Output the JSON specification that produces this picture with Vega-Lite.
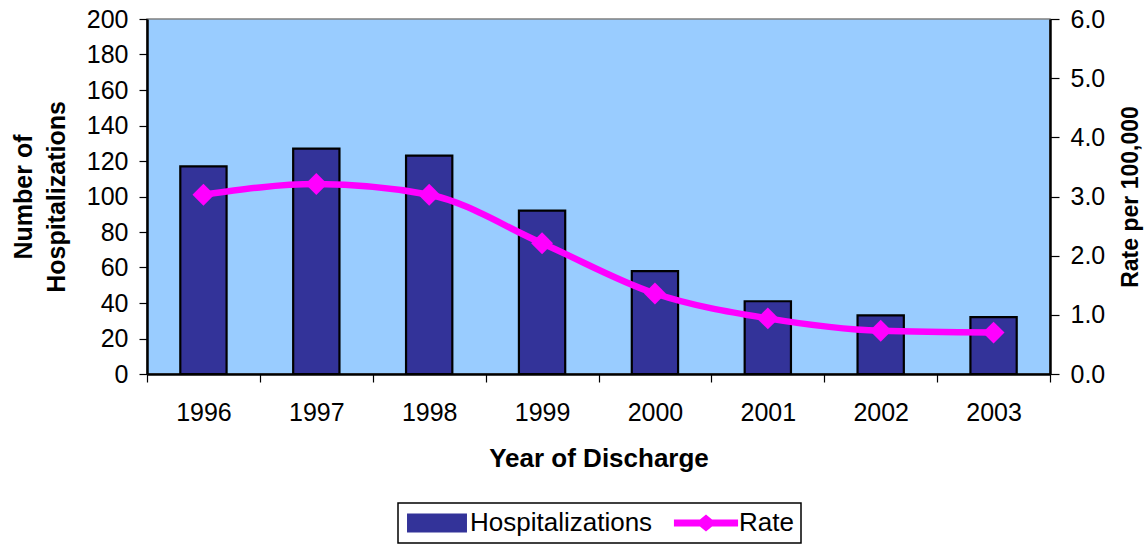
{
  "$schema": "https://vega.github.io/schema/vega-lite/v6.json",
  "autosize": "none",
  "width": 903,
  "height": 355,
  "padding": {"left": 147, "top": 19, "right": 98, "bottom": 170},
  "background": "white",
  "config": {
    "font": "Liberation Sans",
    "view": {"fill": "#99CCFF", "stroke": "#808080", "strokeWidth": 1.5},
    "axis": {
      "labelFont": "Liberation Sans",
      "titleFont": "Liberation Sans",
      "labelColor": "black",
      "titleColor": "black",
      "domainColor": "black",
      "domainWidth": 2.5,
      "tickColor": "black",
      "tickWidth": 1.2,
      "grid": false,
      "labelFontSize": 25,
      "titleFontWeight": "bold"
    },
    "legend": {
      "labelFont": "Liberation Sans",
      "labelFontSize": 26,
      "labelColor": "black",
      "labelLimit": 400
    }
  },
  "data": {
    "values": [
      {"year": "1996", "hosp": 117, "rate": 3.03},
      {"year": "1997", "hosp": 127, "rate": 3.21},
      {"year": "1998", "hosp": 123, "rate": 3.03},
      {"year": "1999", "hosp": 92, "rate": 2.21},
      {"year": "2000", "hosp": 58, "rate": 1.36},
      {"year": "2001", "hosp": 41, "rate": 0.94},
      {"year": "2002", "hosp": 33, "rate": 0.73},
      {"year": "2003", "hosp": 32, "rate": 0.70}
    ]
  },
  "encoding": {
    "x": {
      "field": "year",
      "type": "nominal",
      "scale": {"paddingInner": 0, "paddingOuter": 0},
      "axis": {
        "title": "Year of Discharge",
        "titleFontSize": 26,
        "titlePadding": 20,
        "labelAngle": 0,
        "labelPadding": 18,
        "tickSize": 8,
        "tickBand": "extent"
      }
    }
  },
  "layer": [
    {
      "mark": {"type": "bar", "stroke": "black", "strokeWidth": 2.2, "width": {"band": 0.41}},
      "encoding": {
        "y": {
          "field": "hosp",
          "type": "quantitative",
          "scale": {"domain": [0, 200], "nice": false},
          "axis": {
            "title": ["Number of", "Hospitalizations"],
            "titleFontSize": 25,
            "titleLineHeight": 33,
            "titlePadding": 17,
            "values": [0, 20, 40, 60, 80, 100, 120, 140, 160, 180, 200],
            "tickSize": 8,
            "labelPadding": 11
          }
        },
        "color": {
          "datum": "Hospitalizations",
          "type": "nominal",
          "scale": {"domain": ["Hospitalizations", "Rate"], "range": ["#333399", "#FF00FF"]},
          "legend": {
            "title": null,
            "orient": "none",
            "legendX": 251,
            "legendY": 484,
            "direction": "horizontal",
            "padding": 7,
            "symbolSize": 784,
            "symbolOffset": 19,
            "labelOffset": 20,
            "columnPadding": 20,
            "strokeColor": "black",
            "fillColor": "white",
            "encode": {
              "legend": {"update": {"strokeWidth": {"value": 1.5}}},
              "symbols": {"update": {
                "shape": {"signal": "datum.value === 'Rate' ? 'M-2.29,-0.25H-0.43L0,-0.61L0.43,-0.25H2.29V0.25H0.43L0,0.61L-0.43,0.25H-2.29Z' : 'M-2.07,-0.61H2.07V0.61H-2.07Z'"},
                "fill": {"signal": "datum.value === 'Rate' ? '#FF00FF' : '#333399'"},
                "stroke": {"signal": "datum.value === 'Rate' ? '#FF00FF' : 'black'"},
                "strokeWidth": {"signal": "datum.value === 'Rate' ? 0 : 2"},
                "opacity": {"value": 1},
                "fillOpacity": {"value": 1}
              }}
            }
          }
        }
      }
    },
    {
      "mark": {
        "type": "line",
        "strokeWidth": 6.5,
        "interpolate": "monotone",
        "point": {"shape": "diamond", "size": 480, "filled": true, "opacity": 1}
      },
      "encoding": {
        "y": {
          "field": "rate",
          "type": "quantitative",
          "scale": {"domain": [0, 6], "nice": false},
          "axis": {
            "orient": "right",
            "title": "Rate per 100,000",
            "titleFontSize": 23,
            "titleAngle": -90,
            "titleBaseline": "top",
            "titlePadding": 15,
            "format": ".1f",
            "values": [0, 1, 2, 3, 4, 5, 6],
            "tickSize": 9,
            "labelPadding": 11
          }
        },
        "color": {
          "datum": "Rate",
          "type": "nominal",
          "legend": {
            "title": null,
            "orient": "none",
            "legendX": 251,
            "legendY": 484,
            "direction": "horizontal",
            "padding": 7,
            "symbolSize": 784,
            "symbolOffset": 19,
            "labelOffset": 20,
            "columnPadding": 20,
            "strokeColor": "black",
            "fillColor": "white",
            "encode": {
              "legend": {"update": {"strokeWidth": {"value": 1.5}}},
              "symbols": {"update": {
                "shape": {"signal": "datum.value === 'Rate' ? 'M-2.29,-0.25H-0.43L0,-0.61L0.43,-0.25H2.29V0.25H0.43L0,0.61L-0.43,0.25H-2.29Z' : 'M-2.07,-0.61H2.07V0.61H-2.07Z'"},
                "fill": {"signal": "datum.value === 'Rate' ? '#FF00FF' : '#333399'"},
                "stroke": {"signal": "datum.value === 'Rate' ? '#FF00FF' : 'black'"},
                "strokeWidth": {"signal": "datum.value === 'Rate' ? 0 : 2"},
                "opacity": {"value": 1},
                "fillOpacity": {"value": 1}
              }}
            }
          }
        }
      }
    }
  ],
  "resolve": {"scale": {"y": "independent"}}
}
